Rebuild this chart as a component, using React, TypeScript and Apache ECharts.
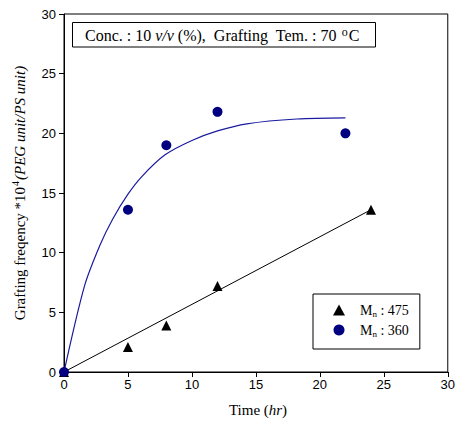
import React, { useEffect, useRef } from "react";
import * as echarts from "echarts";

const xTicks = [0, 5, 10, 15, 20, 25, 30];
const yTicks = [0, 5, 10, 15, 20, 25, 30];

const mn475: [number, number][] = [
  [0, 0], [5, 2.1], [8, 3.9], [12, 7.2], [24, 13.6],
];
const mn360: [number, number][] = [
  [0, 0], [5, 13.6], [8, 19.0], [12, 21.8], [22, 20.0],
];
const fit475: [number, number][] = [
  [0, 0], [24, 13.6],
];
const fit360: [number, number][] = [
  [0, 0], [1.6, 7.2], [2.8, 10.6], [3.8, 12.8], [5, 14.9], [6.1, 16.4],
  [7.9, 18.2], [10, 19.4], [12, 20.2], [14.3, 20.8], [18.2, 21.2], [22, 21.3],
];

const SERIF = "'Liberation Serif', 'Times New Roman', serif";
const SANS = "'Liberation Sans', Arial, sans-serif";
const NAVY = "#000080";
const CURVE = "#1a1aa0";

export default function App() {
  const ref = useRef<HTMLDivElement>(null);
  useEffect(() => {
    if (!ref.current) return;
    const chart = echarts.init(ref.current, null, { renderer: "svg" });
    chart.setOption({
      animation: false,
      backgroundColor: "#fff",
      grid: {
        left: 64, right: 7, top: 14, bottom: 53,
        show: true, borderColor: "#000", borderWidth: 1,
      },
      xAxis: {
        type: "value", min: xTicks[0], max: xTicks[xTicks.length - 1], interval: 5,
        axisLine: { show: true, lineStyle: { color: "#000", width: 1 } },
        axisTick: { show: true, length: 5, lineStyle: { color: "#000" } },
        splitLine: { show: false },
        axisLabel: { color: "#000", fontFamily: SANS, fontSize: 13, margin: 6, showMaxLabel: true },
      },
      yAxis: {
        type: "value", min: yTicks[0], max: yTicks[yTicks.length - 1], interval: 5,
        axisLine: { show: true, lineStyle: { color: "#000", width: 1 } },
        axisTick: { show: true, length: 5, lineStyle: { color: "#000" } },
        splitLine: { show: false },
        axisLabel: { color: "#000", fontFamily: SANS, fontSize: 13, margin: 8 },
      },
      legend: {
        orient: "vertical",
        left: 313, top: 294,
        padding: [8, 11, 11, 20],
        itemGap: 4,
        itemWidth: 12, itemHeight: 11,
        borderColor: "#000", borderWidth: 1, borderRadius: 0,
        data: [
          { name: "Mn475", icon: "triangle" },
          { name: "Mn360", icon: "circle" },
        ],
        formatter: (name: string) =>
          name === "Mn475" ? "{m|M}{s|n}{m| : 475}" : "{m|M}{s|n}{m| : 360}",
        textStyle: {
          color: "#000",
          fontFamily: SERIF,
          fontSize: 14,
          padding: [0, 0, 0, 10],
          rich: {
            m: { fontFamily: SERIF, fontSize: 14, color: "#000", lineHeight: 16 },
            s: { fontFamily: SERIF, fontSize: 9, color: "#000", lineHeight: 16, verticalAlign: "bottom", padding: [7, 0, 0, 0] },
          },
        },
      },
      graphic: [
        {
          type: "rect",
          shape: { x: 72.5, y: 22.5, width: 303, height: 24.5 },
          style: { fill: "#fff", stroke: "#000", lineWidth: 1 },
          z: 100,
        },
        {
          type: "text",
          x: 85, y: 35.5,
          z: 101,
          style: {
            text: "{n|Conc. : 10 }{i|v/v}{n| (%),  Grafting  Tem. : 70 }{sup|o}{n|C}",
            verticalAlign: "middle",
            align: "left",
            rich: {
              n: { fontFamily: SERIF, fontSize: 16, fill: "#000", lineHeight: 20 },
              i: { fontFamily: SERIF, fontSize: 16, fontStyle: "italic", fill: "#000", lineHeight: 20 },
              sup: { fontFamily: SERIF, fontSize: 12, fill: "#000", lineHeight: 20, verticalAlign: "top", padding: [0, 1, 8, 1] },
            },
          },
        },
        {
          type: "text",
          x: 258, y: 410,
          style: {
            text: "{n|Time (}{i|hr}{n|)}",
            align: "center",
            verticalAlign: "middle",
            rich: {
              n: { fontFamily: SERIF, fontSize: 15, fill: "#000" },
              i: { fontFamily: SERIF, fontSize: 15, fontStyle: "italic", fill: "#000" },
            },
          },
        },
        {
          type: "text",
          x: 20, y: 193,
          rotation: Math.PI / 2,
          style: {
            text: "{n|Grafting freqency *10}{sup|4}{i|(PEG unit/PS unit)}",
            align: "center",
            verticalAlign: "middle",
            rich: {
              n: { fontFamily: SERIF, fontSize: 15, fill: "#000", lineHeight: 20 },
              i: { fontFamily: SERIF, fontSize: 15, fontStyle: "italic", fill: "#000", lineHeight: 20 },
              sup: { fontFamily: SERIF, fontSize: 10, fill: "#000", lineHeight: 20, verticalAlign: "top", padding: [0, 1, 8, 1] },
            },
          },
        },
      ],
      series: [
        {
          name: "fit475", type: "line", data: fit475, showSymbol: false, symbol: "none",
          lineStyle: { color: "#000", width: 1 }, z: 2, silent: true,
        },
        {
          name: "fit360", type: "line", data: fit360, showSymbol: false, symbol: "none",
          smooth: 0.3,
          lineStyle: { color: CURVE, width: 1.2 }, z: 2, silent: true,
        },
        {
          name: "Mn475", type: "scatter", data: mn475, symbol: "triangle", symbolSize: 10,
          itemStyle: { color: "#000", opacity: 1 }, z: 3,
        },
        {
          name: "Mn360", type: "scatter", data: mn360, symbol: "circle", symbolSize: 10,
          itemStyle: { color: NAVY, opacity: 1 }, z: 4,
        },
      ],
    });
    return () => chart.dispose();
  }, []);
  return (
    <div
      ref={ref}
      style={{ position: "fixed", left: 0, top: 0, width: 458, height: 425, background: "#fff" }}
    />
  );
}
